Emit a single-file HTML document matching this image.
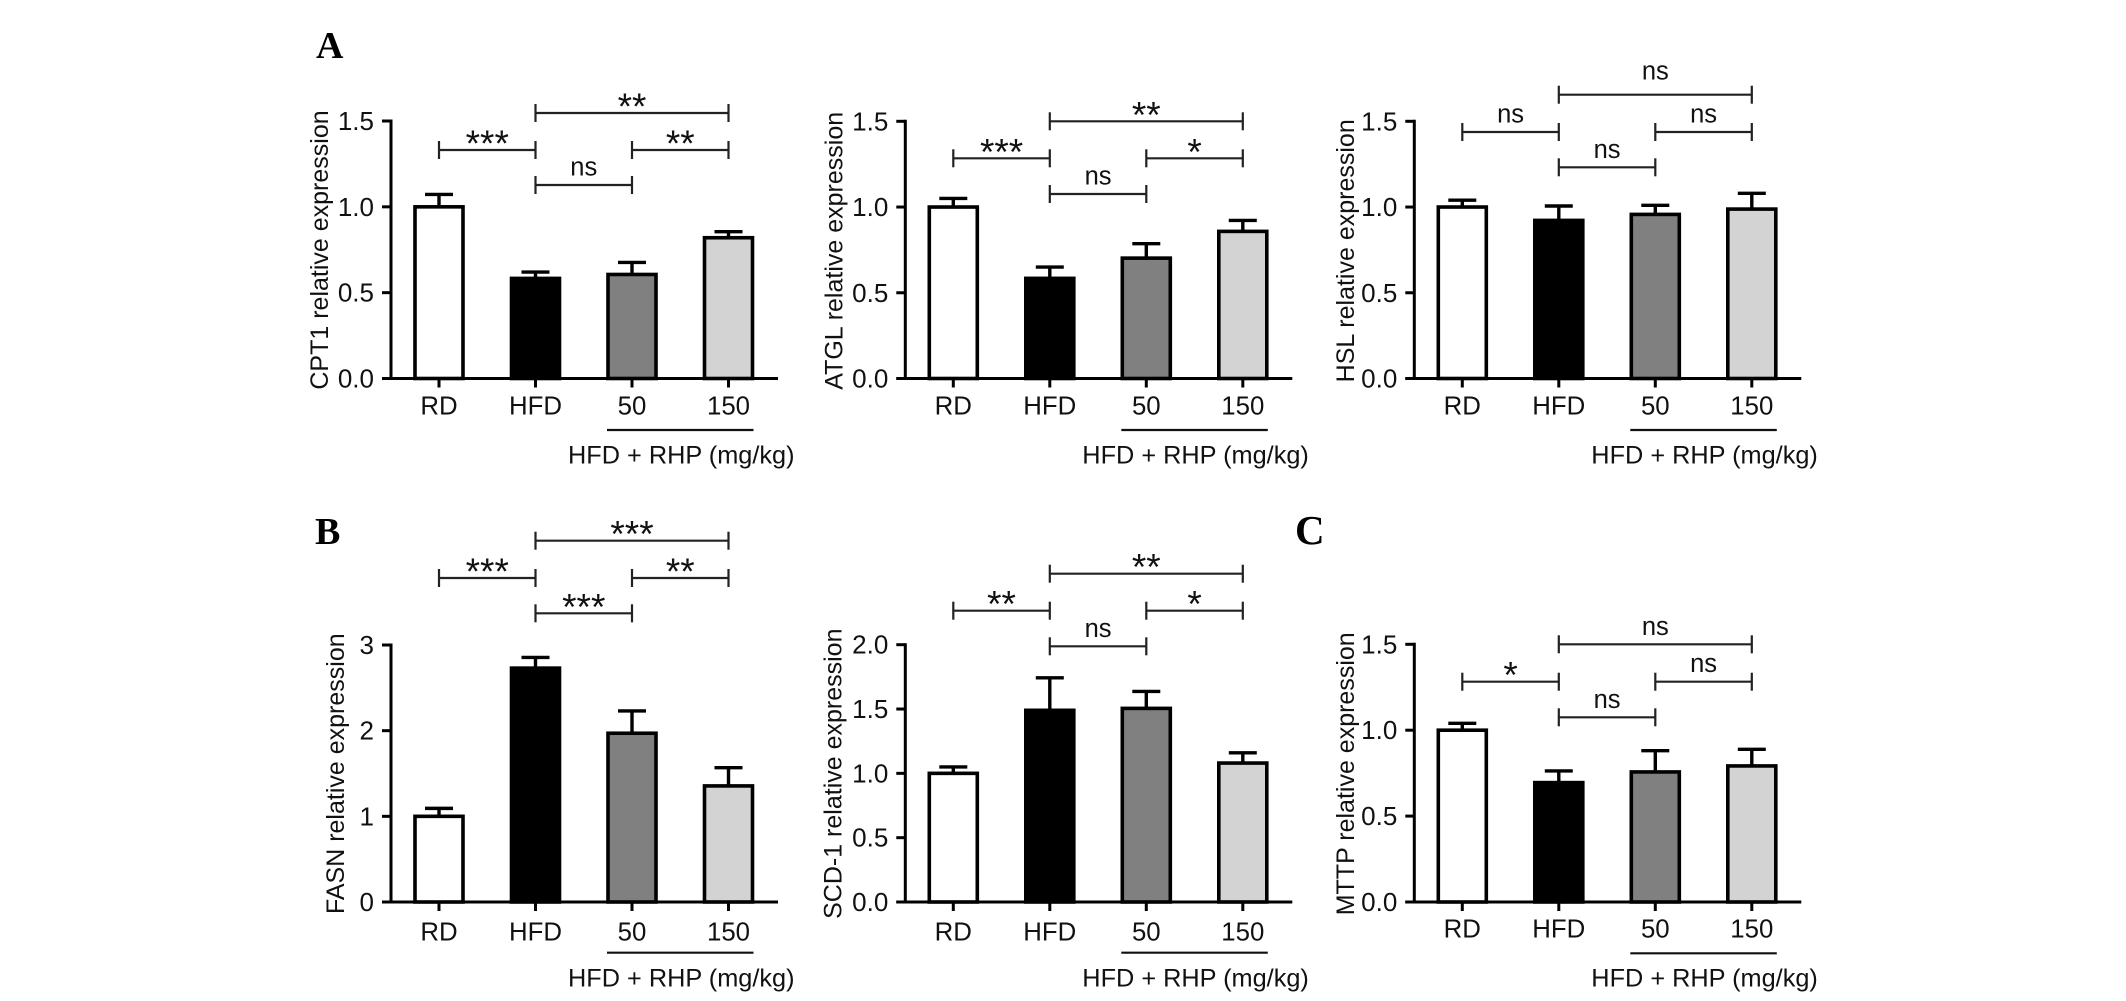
<!DOCTYPE html>
<html lang="en">
<head>
<meta charset="utf-8">
<title>Relative gene expression bar charts</title>
<style>
  html, body { margin: 0; padding: 0; background: #fff; }
  #figure { display: block; width: 2126px; height: 1001px; }
  text { font-family: "Liberation Sans", Arial, sans-serif; fill: #111; }
  .panel-letter { font-family: "Liberation Serif", "Times New Roman", serif; font-weight: bold; font-size: 38px; fill: #000; }
  #panel-c-letter { font-size: 41px; }
</style>
</head>
<body>
<svg id="figure" xmlns="http://www.w3.org/2000/svg" width="2126" height="1001" viewBox="0 0 2126 1001">
  <rect width="2126" height="1001" fill="#ffffff"></rect>
  <text class="panel-letter" x="316" y="58">A</text>
  <text class="panel-letter" x="315" y="544">B</text>
  <text class="panel-letter" id="panel-c-letter" x="1295" y="544">C</text>
</svg>
<script>
// ---- data ----
const categories = ['RD', 'HFD', '50', '150'];
const barFills = ['#ffffff', '#000000', '#808080', '#d3d3d3'];
const groupLabel = 'HFD + RHP (mg/kg)';

const cpt1Values = [1.0, 0.583, 0.606, 0.82];
const cpt1Errors = [0.072, 0.037, 0.07, 0.035];
const cpt1Ticks = [0, 0.5, 1.0, 1.5];
const cpt1Sig = ['***', 'ns', '**', '**'];

const atglValues = [1.0, 0.584, 0.702, 0.858];
const atglErrors = [0.05, 0.066, 0.084, 0.064];
const atglTicks = [0, 0.5, 1.0, 1.5];
const atglSig = ['***', 'ns', '*', '**'];

const hslValues = [1.0, 0.922, 0.957, 0.988];
const hslErrors = [0.04, 0.084, 0.053, 0.092];
const hslTicks = [0, 0.5, 1.0, 1.5];
const hslSig = ['ns', 'ns', 'ns', 'ns'];

const fasnValues = [1.0, 2.73, 1.97, 1.355];
const fasnErrors = [0.093, 0.125, 0.26, 0.213];
const fasnTicks = [0, 1, 2, 3];
const fasnSig = ['***', '***', '**', '***'];

const scdValues = [1.0, 1.49, 1.505, 1.08];
const scdErrors = [0.05, 0.253, 0.132, 0.08];
const scdTicks = [0, 0.5, 1.0, 1.5, 2.0];
const scdSig = ['**', 'ns', '*', '**'];

const mttpValues = [1.0, 0.695, 0.757, 0.792];
const mttpErrors = [0.04, 0.068, 0.124, 0.097];
const mttpTicks = [0, 0.5, 1.0, 1.5];
const mttpSig = ['*', 'ns', 'ns', 'ns'];

// bracket spans as category indices: RD-HFD, HFD-50, 50-150, HFD-150
const bracketFrom = [0, 1, 2, 1];
const bracketTo = [1, 2, 3, 3];
const bracketRow = ['mid', 'low', 'mid', 'top'];

// ---- panel layout ----
const panels = [
  { key: 'cpt1', title: 'CPT1 relative expression', values: cpt1Values, errors: cpt1Errors, ticks: cpt1Ticks, sig: cpt1Sig, dec: 1,
    axisX: 391, y0: 378.5, yTop: 121, yMax: 1.5, titleX: 328, titleY: 250, catDy: 36, lineY: 430, groupY: 463.5, topLift: 9.5, rows: { top: 113, mid: 150, low: 185 } },
  { key: 'atgl', title: 'ATGL relative expression', values: atglValues, errors: atglErrors, ticks: atglTicks, sig: atglSig, dec: 1,
    axisX: 905.3, y0: 378.5, yTop: 121.3, yMax: 1.5, titleX: 842.3, titleY: 250.8, catDy: 36, lineY: 430, groupY: 463.5, topLift: 9.5, rows: { top: 121.3, mid: 158.3, low: 194 } },
  { key: 'hsl', title: 'HSL relative expression', values: hslValues, errors: hslErrors, ticks: hslTicks, sig: hslSig, dec: 1,
    axisX: 1414.3, y0: 378.5, yTop: 121.3, yMax: 1.5, titleX: 1354, titleY: 250.8, catDy: 36, lineY: 430, groupY: 463.5, topLift: 15, rows: { top: 94.7, mid: 132, low: 167.3 } },
  { key: 'fasn', title: 'FASN relative expression', values: fasnValues, errors: fasnErrors, ticks: fasnTicks, sig: fasnSig, dec: 0,
    axisX: 391, y0: 902, yTop: 645, yMax: 3, titleX: 344, titleY: 773.7, catDy: 38.7, lineY: 952.7, groupY: 986.7, topLift: 9.5, rows: { top: 540.7, mid: 578, low: 613.3 } },
  { key: 'scd1', title: 'SCD-1 relative expression', values: scdValues, errors: scdErrors, ticks: scdTicks, sig: scdSig, dec: 1,
    axisX: 905.3, y0: 902, yTop: 644.7, yMax: 2, titleX: 841.7, titleY: 773.7, catDy: 38.7, lineY: 952.7, groupY: 986.7, topLift: 9.5, rows: { top: 573.7, mid: 610.7, low: 646.3 } },
  { key: 'mttp', title: 'MTTP relative expression', values: mttpValues, errors: mttpErrors, ticks: mttpTicks, sig: mttpSig, dec: 1,
    axisX: 1414.3, y0: 902, yTop: 644.3, yMax: 1.5, titleX: 1354, titleY: 773.8, catDy: 35.7, lineY: 953.3, groupY: 986.7, topLift: 9.5, rows: { top: 644.3, mid: 681.7, low: 717.3 } }
];

const svg = document.getElementById('figure');
const NS = 'http://www.w3.org/2000/svg';

function make(parent, tag, props, content) {
  const el = document.createElementNS(NS, tag);
  for (const k in props) el.setAttribute(k, props[k]);
  if (content !== undefined) el.textContent = content;
  parent.appendChild(el);
  return el;
}

function seg(parent, x1, y1, x2, y2, w, color) {
  return make(parent, 'line', { x1: x1, y1: y1, x2: x2, y2: y2, stroke: color || '#000', 'stroke-width': w });
}

panels.forEach(function (p) {
  const yScale = function (v) { return p.y0 - (v / p.yMax) * (p.y0 - p.yTop); };
  const xScale = function (i) { return p.axisX + 48 + i * 96.5; };

  const g = make(svg, 'g', {});
  
  

  // error bars
  p.values.forEach(function (v, i) {
    const cx = xScale(i);
    const top = yScale(v + p.errors[i]);
    const eg = make(g, 'g', {});
    
    
    seg(eg, cx, yScale(v), cx, top, 3.4);
    seg(eg, cx - 14, top, cx + 14, top, 3.4);
  });

  // bars
  p.values.forEach(function (v, i) {
    const cx = xScale(i);
    const bar = make(g, 'rect', { x: cx - 24, y: yScale(v), width: 48, height: p.y0 - yScale(v), fill: barFills[i], stroke: '#000', 'stroke-width': 3.6 });
    
    
  });

  // y axis
  const yAxis = make(g, 'g', {});
  
  
  seg(yAxis, p.axisX, p.yTop - 1.5, p.axisX, p.y0 + 1.5, 3);
  p.ticks.forEach(function (t) {
    const y = yScale(t);
    seg(yAxis, p.axisX - 9, y, p.axisX, y, 3);
    const label = make(yAxis, 'text', { x: p.axisX - 17, y: y + 9, 'text-anchor': 'end', 'font-size': 26 }, t.toFixed(p.dec));
    
    
  });

  // y title
  const title = make(g, 'text', { transform: 'translate(' + p.titleX + ',' + p.titleY + ') rotate(-90)', 'text-anchor': 'middle', 'font-size': 25 }, p.title);
  
  

  // x axis
  const xAxis = make(g, 'g', {});
  
  
  seg(xAxis, p.axisX - 9, p.y0, p.axisX + 387, p.y0, 3);
  categories.forEach(function (c, i) {
    const cx = xScale(i);
    seg(xAxis, cx, p.y0, cx, p.y0 + 9, 3);
    const label = make(xAxis, 'text', { x: cx, y: p.y0 + p.catDy, 'text-anchor': 'middle', 'font-size': 25.8 }, c);
    
    
  });

  // dose group underline and label
  const groupLine = seg(g, xScale(2) - 25, p.lineY, xScale(3) + 25, p.lineY, 2.2, '#111');
  
  
  const groupText = make(g, 'text', { x: xScale(2) - 64, y: p.groupY, 'font-size': 25.3 }, groupLabel);
  
  

  // significance brackets
  bracketFrom.forEach(function (from, b) {
    const x1 = xScale(from);
    const x2 = xScale(bracketTo[b]);
    const y = p.rows[bracketRow[b]];
    const sg = make(g, 'g', {});
    
    
    seg(sg, x1, y, x2, y, 2.2, '#222');
    seg(sg, x1, y - 9, x1, y + 9, 2.2, '#222');
    seg(sg, x2, y - 9, x2, y + 9, 2.2, '#222');
    const s = p.sig[b];
    const isNs = s === 'ns';
    const lift = bracketRow[b] === 'top' ? p.topLift : 9.5;
    const mark = make(sg, 'text', { x: (x1 + x2) / 2, y: isNs ? y - lift : y + 6, 'text-anchor': 'middle', 'font-size': isNs ? 25.5 : 37 }, s);
    
    
  });
});
</script>
</body>
</html>
